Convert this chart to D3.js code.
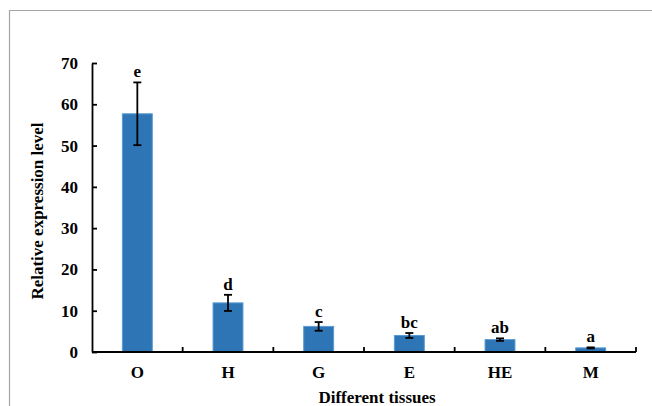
<!DOCTYPE html>
<html>
<head>
<meta charset="utf-8">
<script src="https://cdn.jsdelivr.net/npm/d3@7"></script>
<style>
  body { margin: 0; background: #fff; }
  svg { display: block; }
  svg text { font-family: "Liberation Serif", "Times New Roman", serif; font-weight: bold; }
</style>
</head>
<body>
<div id="main"></div>
<script>
const w = 652, h = 406;

const tissues = ['O', 'H', 'G', 'E', 'HE', 'M'];
const expression = [57.7, 11.9, 6.2, 4.0, 3.0, 1.0];
const errors = [7.6, 1.95, 1.05, 0.6, 0.3, 0.12];
const letters = ['e', 'd', 'c', 'bc', 'ab', 'a'];
const yTicks = [0, 10, 20, 30, 40, 50, 60, 70];

const margin = { left: 92, right: 16, top: 63, bottom: 54 };

const svg = d3.select('#main')
  .append('svg')
  .attr('width', w)
  .attr('height', h);

// frame
svg.append('path')
  .attr('d', `M9.5,${h} V10.5 H${w}`)
  .attr('fill', 'none')
  .attr('stroke', '#a6a6a6')
  .attr('stroke-width', 1.2);

const x = d3.scaleBand()
  .domain(tissues)
  .range([margin.left, w - margin.right])
  .paddingInner(0.67)
  .paddingOuter(0.335);

const xOuter = d3.scaleBand()
  .domain(tissues)
  .range([margin.left, w - margin.right]);

const y = d3.scaleLinear()
  .domain([0, 70])
  .range([h - margin.bottom, margin.top]);

const data = tissues.map((t, i) => ({ t, v: expression[i], e: errors[i], l: letters[i] }));

// bars
svg.append('g')
  .selectAll('rect')
  .data(data)
  .enter()
  .append('rect')
  .attr('x', d => x(d.t))
  .attr('y', d => y(d.v))
  .attr('width', x.bandwidth())
  .attr('height', d => y(0) - y(d.v))
  .attr('fill', '#2e75b6')
  .attr('stroke', '#5b9bd5')
  .attr('stroke-width', 1);

// error bars
const eb = svg.append('g')
  .attr('stroke', '#000')
  .attr('stroke-width', 1.8);
data.forEach(d => {
  const cx = x(d.t) + x.bandwidth() / 2;
  eb.append('line').attr('x1', cx).attr('x2', cx).attr('y1', y(d.v + d.e)).attr('y2', y(d.v - d.e));
  eb.append('line').attr('x1', cx - 4).attr('x2', cx + 4).attr('y1', y(d.v + d.e)).attr('y2', y(d.v + d.e));
  eb.append('line').attr('x1', cx - 4).attr('x2', cx + 4).attr('y1', y(d.v - d.e)).attr('y2', y(d.v - d.e));
});

// significance letters
svg.append('g')
  .selectAll('text')
  .data(data)
  .enter()
  .append('text')
  .attr('x', d => x(d.t) + x.bandwidth() / 2)
  .attr('y', d => y(d.v + d.e) - 5)
  .attr('text-anchor', 'middle')
  .attr('font-size', 17)
  .text(d => d.l);

// y axis
const yAxis = d3.axisRight(y)
  .tickValues(yTicks)
  .tickSize(5)
  .tickSizeOuter(0);
const yLine = svg.append('g')
  .attr('transform', `translate(${margin.left},0)`)
  .call(yAxis)
  .attr('font-family', null)
  .attr('font-size', null);
yLine.select('.domain').attr('stroke-width', 1.8);
yLine.selectAll('.tick line').attr('stroke-width', 1.8);
yLine.selectAll('.tick text')
  .attr('x', -14)
  .attr('text-anchor', 'end')
  .attr('font-size', 17)
  .attr('fill', '#000');

// x axis
const xg = svg.append('g')
  .attr('transform', `translate(0,${y(0)})`);
xg.append('line')
  .attr('x1', margin.left).attr('x2', w - margin.right)
  .attr('stroke', '#000').attr('stroke-width', 1.8);
xg.selectAll('.xt')
  .data(tissues)
  .enter()
  .append('line')
  .attr('x1', d => xOuter(d) + xOuter.bandwidth())
  .attr('x2', d => xOuter(d) + xOuter.bandwidth())
  .attr('y1', 0).attr('y2', -5)
  .attr('stroke', '#000').attr('stroke-width', 1.8);
xg.selectAll('text')
  .data(tissues)
  .enter()
  .append('text')
  .attr('x', d => xOuter(d) + xOuter.bandwidth() / 2)
  .attr('y', 26)
  .attr('text-anchor', 'middle')
  .attr('font-size', 17)
  .text(d => d);

// axis titles
svg.append('text')
  .text('Different tissues')
  .attr('x', 377)
  .attr('y', 403)
  .attr('text-anchor', 'middle')
  .attr('font-size', 17);

svg.append('text')
  .text('Relative expression level')
  .attr('transform', 'translate(43,211) rotate(-90)')
  .attr('text-anchor', 'middle')
  .attr('font-size', 17);
</script>
</body>
</html>
